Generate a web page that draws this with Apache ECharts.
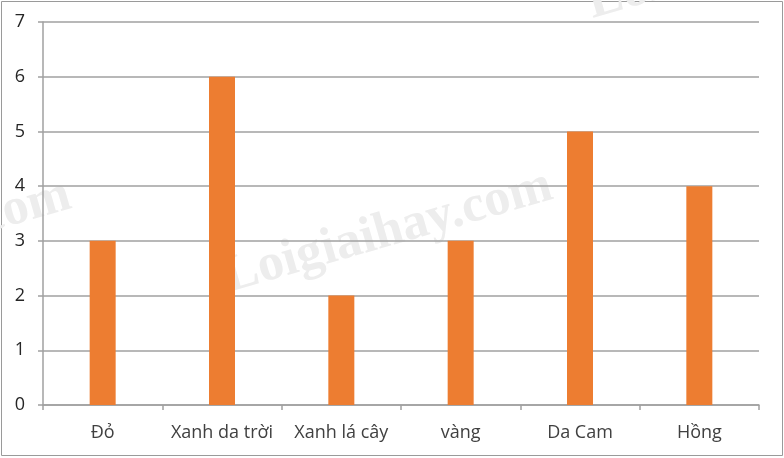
<!DOCTYPE html>
<html>
<head>
<meta charset="utf-8">
<script src="https://cdn.jsdelivr.net/npm/echarts@6/dist/echarts.min.js"></script>
<style>
html,body{margin:0;padding:0;background:#fff;}
#c{width:784px;height:458px;}
</style>
</head>
<body>
<div id="c"></div>
<script>
const categories = ["Đỏ", "Xanh da trời", "Xanh lá cây", "vàng", "Da Cam", "Hồng"];
const values = [3, 6, 2, 3, 5, 4];
const yTicks = [0, 1, 2, 3, 4, 5, 6, 7];

const chart = echarts.init(document.getElementById('c'), null, {renderer: 'canvas'});
const wmStyle = {fill: '#ededed', font: 'bold 52px "Liberation Serif", serif'};
const rot = 16 * Math.PI / 180;
chart.setOption({
  animation: false,
  backgroundColor: '#ffffff',
  graphic: [
    {type: 'rect', z: -20, shape: {x: 1.5, y: 1.5, width: 781, height: 454}, style: {fill: 'none', stroke: '#9a9a9a', lineWidth: 1}},
    {type: 'text', z: -10, x: 232, y: 304, rotation: rot, style: Object.assign({text: 'Loigiaihay.com', textVerticalAlign: 'bottom'}, wmStyle)},
    {type: 'text', z: -10, x: -12, y: 245, rotation: rot, style: Object.assign({text: 'com', textVerticalAlign: 'bottom'}, wmStyle)},
    {type: 'text', z: -10, x: 596, y: 30, rotation: rot, style: Object.assign({text: 'Loi', textVerticalAlign: 'bottom'}, wmStyle)}
  ],
  grid: {left: 43, right: 25, top: 22, bottom: 53, containLabel: false},
  xAxis: {
    type: 'category',
    data: categories,
    axisLine: {show: true, lineStyle: {color: '#a0a0a0', width: 1.5}},
    axisTick: {show: true, interval: 0, alignWithLabel: false, length: 5, lineStyle: {color: '#a0a0a0', width: 1.5}},
    axisLabel: {interval: 0, hideOverlap: false, margin: 19, color: '#404040', fontSize: 18, fontFamily: '"Open Sans", sans-serif'},
    splitLine: {show: false}
  },
  yAxis: {
    type: 'value',
    min: yTicks[0],
    max: yTicks[yTicks.length - 1],
    interval: 1,
    axisLine: {show: true, lineStyle: {color: '#a0a0a0', width: 1.5}},
    axisTick: {show: true, length: 5, lineStyle: {color: '#a0a0a0', width: 1.5}},
    axisLabel: {margin: 18, color: '#262626', fontSize: 18, fontFamily: '"Open Sans", sans-serif'},
    splitLine: {show: true, lineStyle: {color: '#a0a0a0', width: 1.5}}
  },
  series: [{
    type: 'bar',
    data: values,
    barWidth: 26,
    itemStyle: {color: '#ED7D31'},
    z: 5
  }]
});
</script>
</body>
</html>
